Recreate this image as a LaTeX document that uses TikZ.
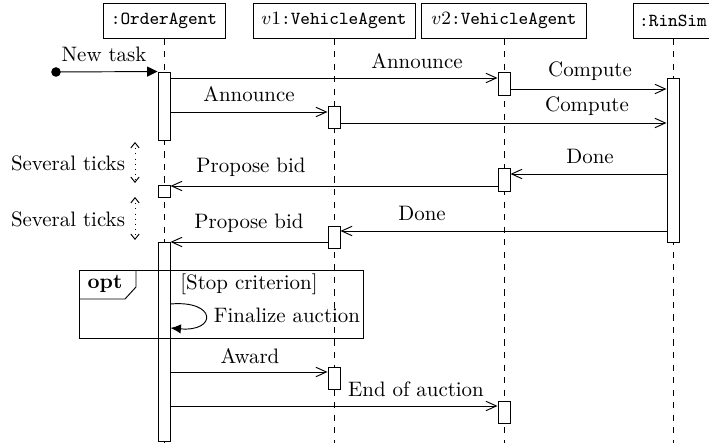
\documentclass[tikz,border=0pt]{standalone}
\usepackage{fontspec}
\usetikzlibrary{arrows.meta,fit,calc}
\tikzset{
  head/.style={draw, minimum height=16.3pt, inner sep=0pt, font=\fontsize{8.8}{10}\selectfont\ttfamily},
  act/.style={draw, fill=white, inner sep=0pt},
  life/.style={dashed},
  msg/.style={-{Straight Barb[length=5pt,width=4.5pt]}},
  ticks/.style={dotted, {Straight Barb[length=2.5pt,width=4pt]}-{Straight Barb[length=2.5pt,width=4pt]}},
  lbl/.style={inner sep=0pt},
}
\begin{document}
\begin{tikzpicture}[x=0.4785pt, y=-0.4785pt, line width=0.45pt]
\useasboundingbox (0,0) rectangle (709,443);
\clip (0,0) rectangle (709,443);
% headers
\node[head, minimum width=58.4pt] (oa) at (164,21) {:OrderAgent};
\node[head, minimum width=77.5pt] (v1) at (334,21) {$v1$:VehicleAgent};
\node[head, minimum width=79pt] (v2) at (504,21) {$v2$:VehicleAgent};
\node[head, minimum width=38.3pt] (rs) at (673,21) {:RinSim};
% lifelines
\coordinate (oaE) at (164,443);
\coordinate (v1E) at (334,443);
\coordinate (v2E) at (504,443);
\coordinate (rsE) at (673,443);
\draw[life] (oa.south) -- (oaE);
\draw[life] (v1.south) -- (v1E);
\draw[life] (v2.south) -- (v2E);
\draw[life] (rs.south) -- (rsE);
% activation boxes
\node[act, fit={(158,72)(170,140)}] (o1) {};
\node[act, fit={(158,185)(170,197)}] (o2) {};
\node[act, fit={(158,242)(170,441)}] (o3) {};
\node[act, fit={(328,106)(340,128)}] (v1a) {};
\node[act, fit={(328,226)(340,248)}] (v1b) {};
\node[act, fit={(328,367)(340,389)}] (v1c) {};
\node[act, fit={(498,72)(510,95)}] (v2a) {};
\node[act, fit={(498,168)(510,191)}] (v2b) {};
\node[act, fit={(498,401)(510,423)}] (v2c) {};
\node[act, fit={(667,78)(679,242)}] (rsa) {};
% new task
\node[circle, fill, inner sep=0pt, minimum size=4.6pt] (nt) at (56,72) {};
\draw[-{Triangle[length=5pt,width=4.8pt]}] (nt.center) -- (o1.north west);
\node[lbl] (ntl) at (104,54) {New task};
% messages
\draw[msg] (o1.east |- 0,78) -- (v2a.west |- 0,78);
\node[lbl] at (417,61) {Announce};
\draw[msg] (o1.east |- 0,112) -- (v1a.west |- 0,112);
\node[lbl] at (249,94) {Announce};
\draw[msg] (v2a.east |- 0,89) -- (rsa.west |- 0,89);
\node[lbl] at (590,71) {Compute};
\draw[msg] (v1a.east |- 0,123) -- (rsa.west |- 0,123);
\node[lbl] at (587,106) {Compute};
\draw[msg] (rsa.west |- 0,174) -- (v2b.east |- 0,174);
\node[lbl] at (590,156) {Done};
\draw[msg] (v2b.west |- 0,186) -- (o2.east |- 0,186);
\node[lbl] at (251,167) {Propose bid};
\draw[msg] (rsa.west |- 0,231) -- (v1b.east |- 0,231);
\node[lbl] at (422,213) {Done};
\draw[msg] (v1b.west |- 0,242) -- (o3.east |- 0,242);
\node[lbl] at (249,223) {Propose bid};
% several ticks
\node[lbl] (st1) at (68,163) {Several ticks};
\node[lbl] (st2) at (68,219) {Several ticks};
\coordinate (t1a) at (135,142);
\coordinate (t1b) at (135,183);
\coordinate (t2a) at (135,197);
\coordinate (t2b) at (135,240);
\draw[ticks] (t1a) -- (t1b);
\draw[ticks] (t2a) -- (t2b);
% opt frame
\draw (79,270) rectangle (363,338);
\draw (136,270) -- (136,287) -- (125,299) -- (79,299);
\node[lbl] at (105,284) {\textbf{opt}};
\node[lbl] at (249,284) {[Stop criterion]};
\draw[-{Latex[length=5pt,width=4.5pt]}] (o3.east |- 0,304) .. controls (217,300) and (217,332) .. (o3.east |- 0,328);
\node[lbl] at (287,315) {Finalize auction};
% award / end
\draw[msg] (o3.east |- 0,372) -- (v1c.west |- 0,372);
\node[lbl] at (250,356) {Award};
\draw[msg] (o3.east |- 0,406) -- (v2c.west |- 0,406);
\node[lbl] at (416,389) {End of auction};
\end{tikzpicture}
\end{document}
